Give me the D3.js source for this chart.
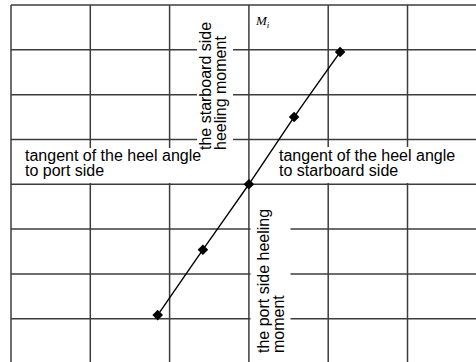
<!DOCTYPE html>
<html>
<head>
<meta charset="utf-8">
<script src="https://cdn.jsdelivr.net/npm/d3@7"></script>
<style>
  html, body { margin: 0; padding: 0; background: #fff; }
  svg { display: block; }
  text { font-family: "Liberation Sans", Arial, sans-serif; fill: #000; }
</style>
</head>
<body>
<script>
// Heel test: tangent of the heel angle vs heeling moment
const heelTan = [-1.15, -0.58, 0, 0.57, 1.15];
const moment = [-2.92, -1.46, 0, 1.5, 2.95];

// Grid divisions (arbitrary units on both axes)
const xGrid = [-3, -2, -1, 0, 1, 2, 3];
const yGrid = [4, 3, 2, 1, 0, -1, -2, -3, -4];

const W = 476, H = 362;
const svg = d3.select("body").append("svg").attr("width", W).attr("height", H);

const x = d3.scaleLinear().domain([-3, 3]).range([11, 486.8]);
const y = d3.scaleLinear().domain([-4, 4]).range([363.5, 5]);

const gridColor = "#3c3c3c";

// vertical grid lines
svg.append("g").selectAll("line").data(xGrid).join("line")
  .attr("x1", d => x(d)).attr("x2", d => x(d))
  .attr("y1", y(4)).attr("y2", H)
  .attr("stroke", gridColor).attr("stroke-width", 1.5);

// horizontal grid lines
svg.append("g").selectAll("line").data(yGrid).join("line")
  .attr("x1", x(-3)).attr("x2", W)
  .attr("y1", d => y(d)).attr("y2", d => y(d))
  .attr("stroke", gridColor).attr("stroke-width", 1.5);

// white panels behind the axis captions
const panels = [
  [197, 10, 36, 135],   // starboard moment caption
  [12.5, 148, 184, 35], // port heel caption
  [250.5, 147, 226, 36],// starboard heel caption
  [250.5, 190, 40, 172] // port moment caption
];
svg.append("g").selectAll("rect").data(panels).join("rect")
  .attr("x", d => d[0]).attr("y", d => d[1])
  .attr("width", d => d[2]).attr("height", d => d[3])
  .attr("fill", "#fff");

// the curve
const line = d3.line()
  .x((d, i) => x(heelTan[i]))
  .y((d, i) => y(d))
  .curve(d3.curveCardinal.tension(0.3));
svg.append("path")
  .attr("d", line(moment))
  .attr("fill", "none")
  .attr("stroke", "#000")
  .attr("stroke-width", 1.4);

// diamond markers
const r = 5.3;
svg.append("g").selectAll("path").data(moment).join("path")
  .attr("transform", (d, i) => `translate(${x(heelTan[i])},${y(d)})`)
  .attr("d", `M0,${-r}L${r},0L0,${r}L${-r},0Z`)
  .attr("fill", "#000");

// captions
const fs = 16;
function caption(lines, tx, ty, rotate) {
  const t = svg.append("text")
    .attr("font-size", fs)
    .attr("transform", `translate(${tx},${ty})` + (rotate ? " rotate(-90)" : ""));
  lines.forEach((s, i) => {
    t.append("tspan").attr("x", 0).attr("y", i * 15.3).text(s);
  });
}
caption(["tangent of the heel angle", "to port side"], 25, 160.5, false);
caption(["tangent of the heel angle", "to starboard side"], 279, 160.5, false);
caption(["the starboard side", "heeling moment"], 210.5, 150, true);
caption(["the port side heeling", "moment"], 269, 353, true);

// moment axis symbol
const mi = svg.append("text")
  .attr("x", 256).attr("y", 25)
  .style("font-family", "'Liberation Serif', 'Times New Roman', serif")
  .style("font-style", "italic")
  .attr("font-size", 13)
  .attr("fill", "#222");
mi.append("tspan").text("M");
mi.append("tspan").attr("font-size", 9).attr("dy", 3).text("i");
</script>
</body>
</html>
